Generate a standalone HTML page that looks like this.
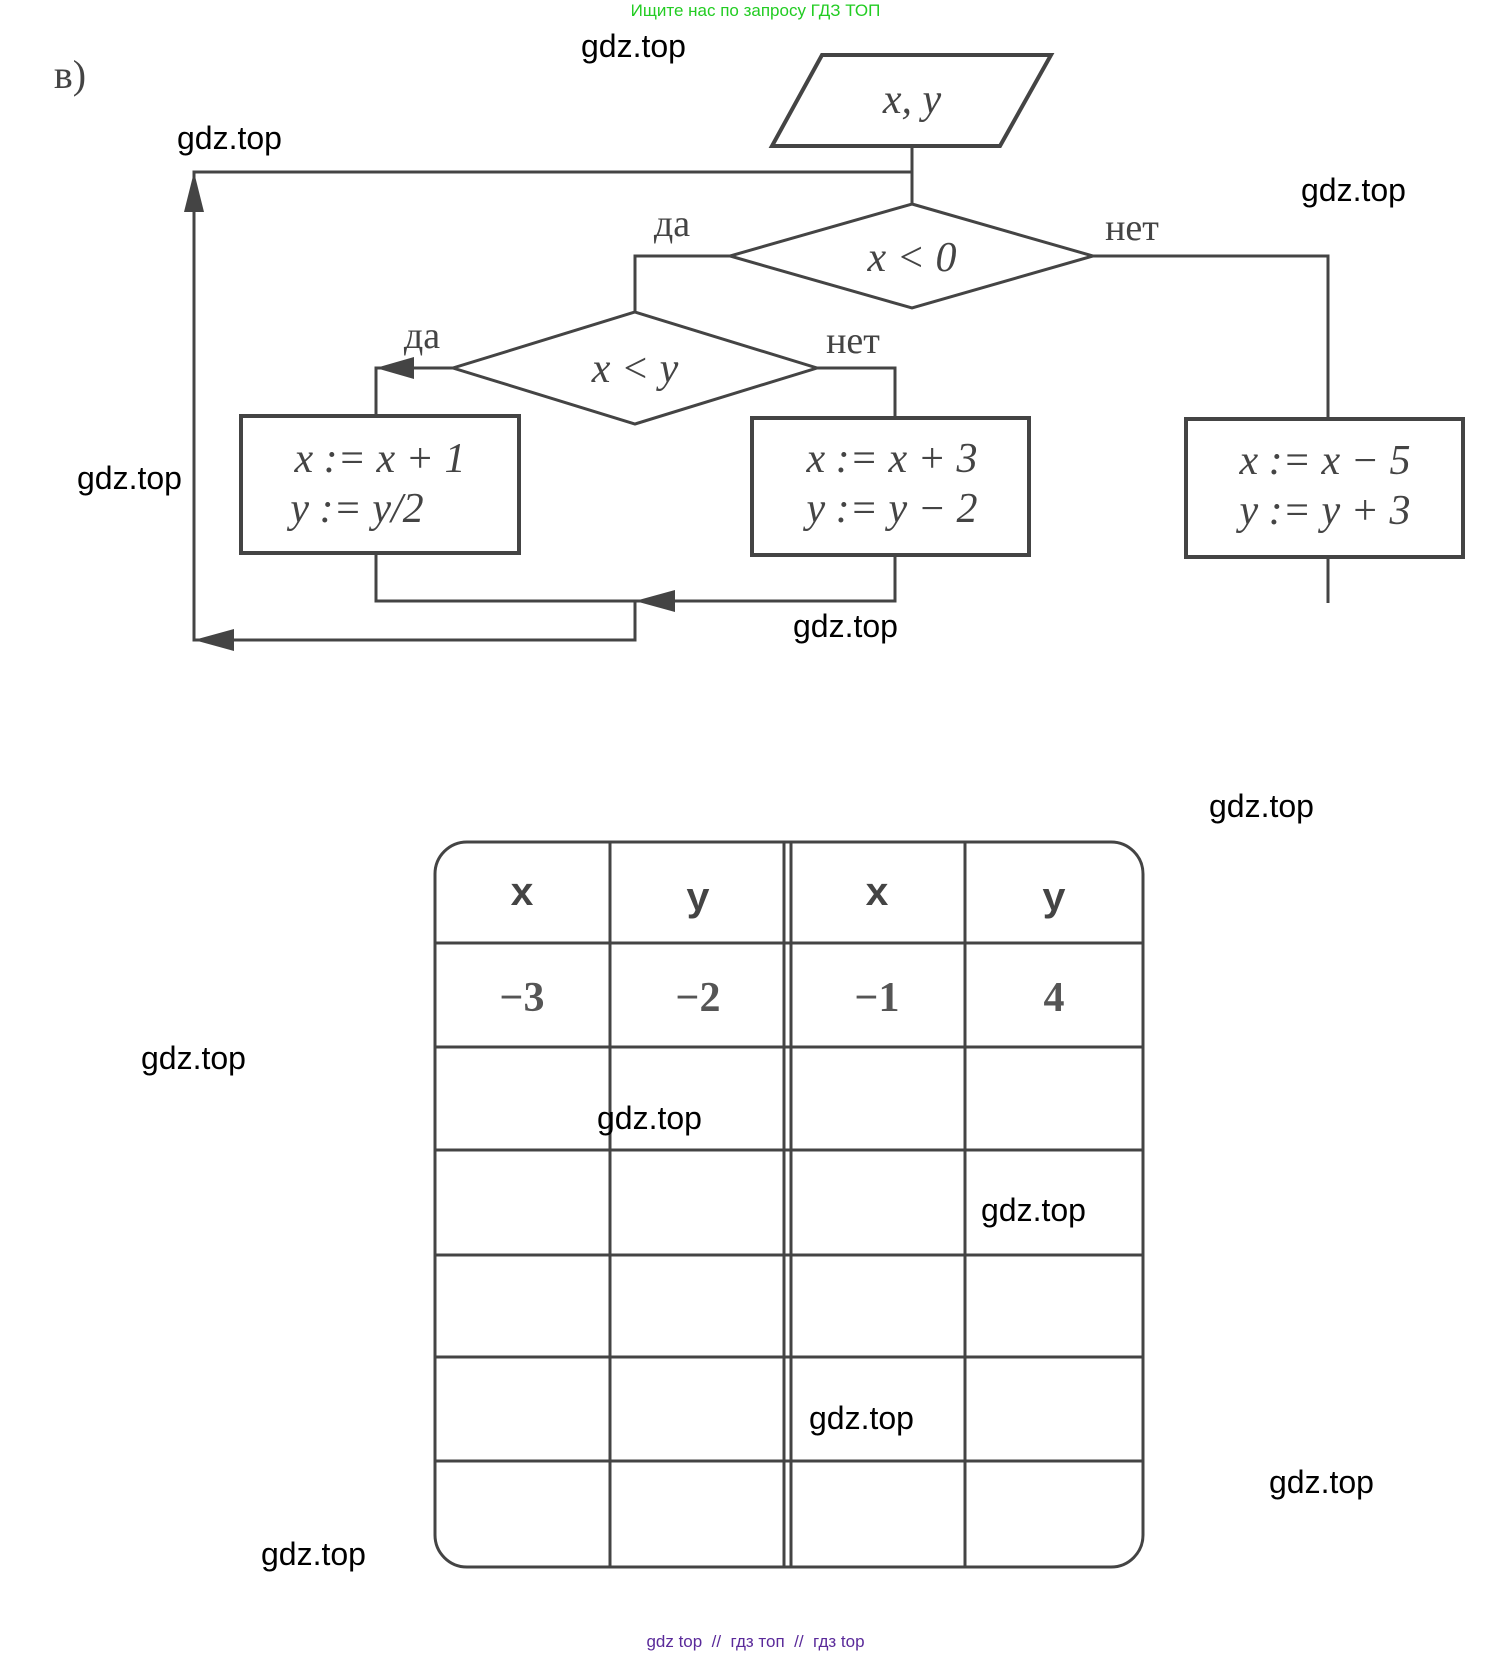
<!DOCTYPE html>
<html><head><meta charset="utf-8"><style>
body{margin:0;width:1511px;height:1659px;background:#fff;position:relative;overflow:hidden;font-family:"Liberation Sans",sans-serif}
.w{position:absolute;font-size:32px;color:#000;font-family:"Liberation Sans",sans-serif}
</style></head><body>
<svg width="1511" height="1659" style="position:absolute;left:0;top:0" xmlns="http://www.w3.org/2000/svg">
<g stroke="#444" stroke-width="3" fill="none">
<polygon points="822,55 1051,55 1000,146 772,146" stroke-width="4"/>
<polyline points="912,146 912,204"/>
<polyline points="912,172 194,172 194,640 635,640 635,601"/>
<polygon points="912,204 1093,256 912,308 730,256"/>
<polyline points="1093,256 1328,256 1328,419"/>
<rect x="1186" y="419" width="277" height="138" stroke-width="4"/>
<polyline points="1328,557 1328,603"/>
<polyline points="730,256 635,256 635,312"/>
<polygon points="635,312 817,368 635,424 453,368"/>
<polyline points="453,368 376,368 376,416"/>
<rect x="241" y="416" width="278" height="137" stroke-width="4"/>
<polyline points="817,368 895,368 895,418"/>
<rect x="752" y="418" width="277" height="137" stroke-width="4"/>
<polyline points="376,553 376,601 895,601 895,555"/>
<path d="M467,842 H1111 A32,32 0 0 1 1143,874 V1535 A32,32 0 0 1 1111,1567 H467 A32,32 0 0 1 435,1535 V874 A32,32 0 0 1 467,842 Z"/>
<line x1="610" y1="842" x2="610" y2="1567"/>
<line x1="784" y1="842" x2="784" y2="1567"/>
<line x1="791" y1="842" x2="791" y2="1567"/>
<line x1="965" y1="842" x2="965" y2="1567"/>
<line x1="435" y1="943" x2="1143" y2="943"/>
<line x1="435" y1="1047" x2="1143" y2="1047"/>
<line x1="435" y1="1150" x2="1143" y2="1150"/>
<line x1="435" y1="1255" x2="1143" y2="1255"/>
<line x1="435" y1="1357" x2="1143" y2="1357"/>
<line x1="435" y1="1461" x2="1143" y2="1461"/>
</g>
<g fill="#444">
<polygon points="194,172 184,212 204,212"/>
<polygon points="376,368 414,357 414,379"/>
<polygon points="635,601 675,590 675,612"/>
<polygon points="194,640 234,629 234,651"/>
</g>
<g font-family="Liberation Serif,serif" fill="#444" font-size="42" text-anchor="middle" font-style="italic">
<text x="912" y="113">x, y</text>
<text x="912" y="271">x &lt; 0</text>
<text x="635" y="382">x &lt; y</text>
<text x="380" y="472">x := x + 1</text>
<text x="357" y="522">y := y/2</text>
<text x="892" y="472">x := x + 3</text>
<text x="892" y="522">y := y − 2</text>
<text x="1325" y="474">x := x − 5</text>
<text x="1325" y="524">y := y + 3</text>
</g>
<g font-family="Liberation Serif,serif" fill="#444" font-size="38" text-anchor="middle">
<text x="672" y="236">да</text>
<text x="1132" y="240">нет</text>
<text x="422" y="348">да</text>
<text x="853" y="353">нет</text>
<text x="70" y="88" font-size="40">в)</text>
</g>
<g font-family="Liberation Mono,monospace" font-weight="bold" fill="#444" font-size="40" text-anchor="middle">
<text x="522" y="905">x</text><text x="698" y="910">y</text><text x="877" y="905">x</text><text x="1054" y="910">y</text>
</g>
<g font-family="Liberation Serif,serif" font-weight="bold" fill="#555" font-size="42" text-anchor="middle">
<text x="522" y="1011">−3</text><text x="698" y="1011">−2</text><text x="877" y="1011">−1</text><text x="1054" y="1011">4</text>
</g>
</svg>
<div style="position:absolute;left:0;width:1511px;top:1px;text-align:center;color:#22cc22;font-size:17px">Ищите нас по запросу ГДЗ ТОП</div>
<div style="position:absolute;left:0;width:1511px;top:1632px;text-align:center;color:#5a2a9a;font-size:17px">gdz top &nbsp;//&nbsp; гдз топ &nbsp;//&nbsp; гдз top</div>
<div class="w" style="left:581px;top:28px">gdz.top</div>
<div class="w" style="left:177px;top:120px">gdz.top</div>
<div class="w" style="left:1301px;top:172px">gdz.top</div>
<div class="w" style="left:77px;top:460px">gdz.top</div>
<div class="w" style="left:793px;top:608px">gdz.top</div>
<div class="w" style="left:1209px;top:788px">gdz.top</div>
<div class="w" style="left:141px;top:1040px">gdz.top</div>
<div class="w" style="left:597px;top:1100px">gdz.top</div>
<div class="w" style="left:981px;top:1192px">gdz.top</div>
<div class="w" style="left:809px;top:1400px">gdz.top</div>
<div class="w" style="left:1269px;top:1464px">gdz.top</div>
<div class="w" style="left:261px;top:1536px">gdz.top</div>
</body></html>
